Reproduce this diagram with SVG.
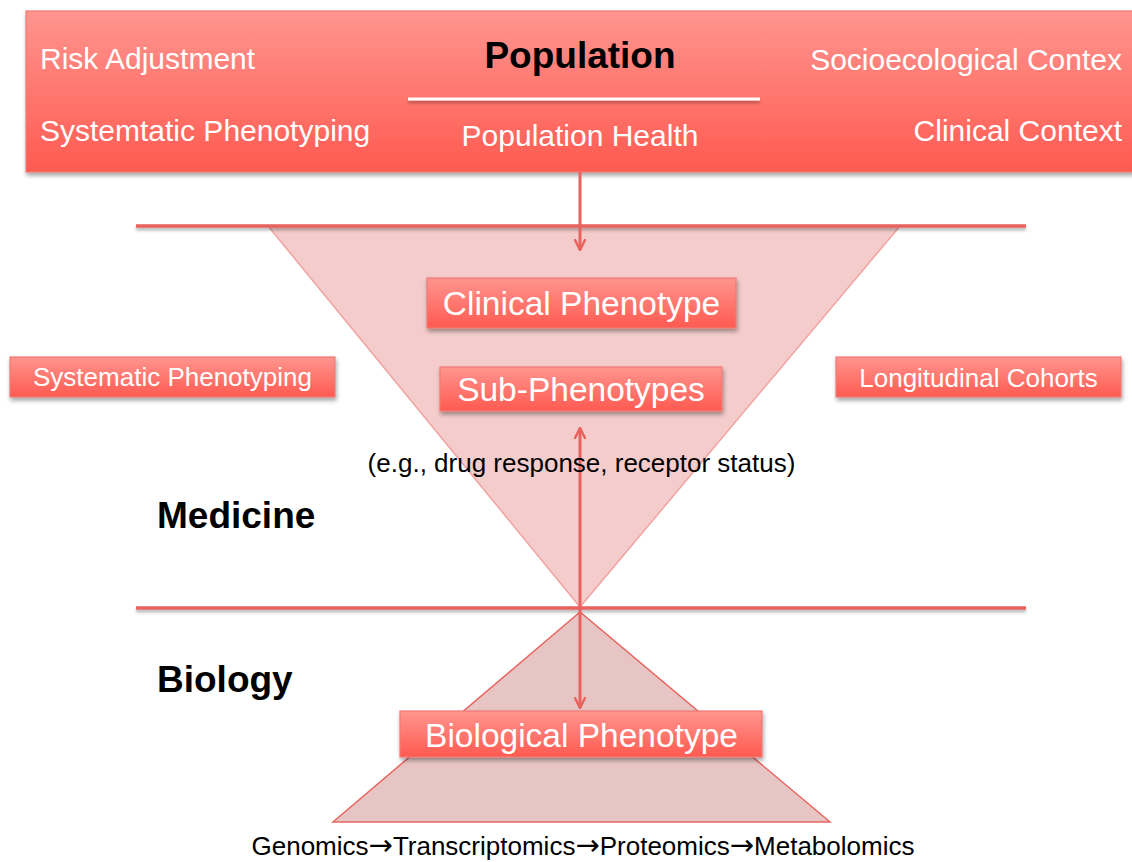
<svg xmlns="http://www.w3.org/2000/svg" width="1132" height="862" viewBox="0 0 1132 862">
  <defs>
    <linearGradient id="redFill" x1="0" y1="0" x2="0" y2="1">
      <stop offset="0" stop-color="#ff958f"/>
      <stop offset="1" stop-color="#ff5a50"/>
    </linearGradient>
    <filter id="shadow" x="-10%" y="-30%" width="120%" height="170%">
      <feDropShadow dx="1" dy="3" stdDeviation="2" flood-color="#000" flood-opacity="0.35"/>
    </filter>
    <filter id="lineShadow" filterUnits="userSpaceOnUse" x="0" y="0" width="1132" height="862">
      <feDropShadow dx="0" dy="2.5" stdDeviation="1.5" flood-color="#000" flood-opacity="0.3"/>
    </filter>
    <marker id="arrowHead" viewBox="0 0 12 12" refX="11" refY="6" markerWidth="12" markerHeight="12" markerUnits="userSpaceOnUse" orient="auto-start-reverse">
      <path d="M1,1 L11,6 L1,11" fill="none" stroke="#e8625e" stroke-width="2.5" stroke-linecap="round" stroke-linejoin="round"/>
    </marker>
  </defs>
  <style>
    .box { fill: url(#redFill); stroke: #ee7a75; stroke-width: 1.2; filter: url(#shadow); }
    .wtxt { font-family: "Liberation Sans", Arial, sans-serif; fill: #ffffff; }
    .btxt { font-family: "Liberation Sans", Arial, sans-serif; fill: #000000; }
    .bold { font-weight: bold; }
    .hline { stroke: #e8625e; stroke-width: 3.5; filter: url(#lineShadow); }
    .conn { stroke: #e8625e; stroke-width: 3; fill: none; }
    .arr { font-family: "DejaVu Sans", sans-serif; font-size: 29px; }
  </style>

  <!-- population banner -->
  <g id="population">
    <rect class="box" x="26" y="11" width="1120" height="161"/>
    <text class="btxt bold" x="580" y="68" font-size="37" text-anchor="middle">Population</text>
    <line x1="408" y1="99" x2="760" y2="99" stroke="#ffffff" stroke-width="3" filter="url(#lineShadow)"/>
    <text class="wtxt" x="40" y="69" font-size="30">Risk Adjustment</text>
    <text class="wtxt" x="40" y="141" font-size="30">Systemtatic Phenotyping</text>
    <text class="wtxt" x="580" y="146" font-size="30" text-anchor="middle">Population Health</text>
    <text class="wtxt" x="1122" y="70" font-size="30" text-anchor="end">Socioecological Contex</text>
    <text class="wtxt" x="1122" y="141" font-size="30" text-anchor="end">Clinical Context</text>
  </g>

  <!-- medicine funnel -->
  <g id="medicine-funnel">
    <polygon points="268,226 900,226 580,607" fill="#f3cccb" stroke="#f2a3a0" stroke-width="1.5"/>
  </g>

  <!-- biology pyramid -->
  <g id="biology-pyramid">
    <polygon points="580,612 333,822 830,822" fill="#e8c5c5" stroke="#e8665f" stroke-width="1.5"/>
  </g>

  <!-- level dividers -->
  <g id="dividers">
    <line class="hline" x1="136" y1="226" x2="1026" y2="226"/>
    <line class="hline" x1="136" y1="608" x2="1026" y2="608"/>
  </g>

  <!-- connectors -->
  <g id="connectors">
    <line class="conn" x1="580" y1="172" x2="580" y2="250" marker-end="url(#arrowHead)"/>
    <line class="conn" x1="580" y1="428" x2="580" y2="708" marker-start="url(#arrowHead)" marker-end="url(#arrowHead)"/>
  </g>

  <g id="clinical-phenotype">
    <rect class="box" x="427" y="278" width="309" height="50"/>
    <text class="wtxt" x="581.5" y="315" font-size="33.5" text-anchor="middle">Clinical Phenotype</text>
  </g>

  <g id="sub-phenotypes">
    <rect class="box" x="440" y="367" width="282" height="44"/>
    <text class="wtxt" x="581" y="401" font-size="33.5" text-anchor="middle">Sub-Phenotypes</text>
  </g>

  <g id="systematic-phenotyping">
    <rect class="box" x="10" y="357" width="325" height="40"/>
    <text class="wtxt" x="172.5" y="386" font-size="26" text-anchor="middle">Systematic Phenotyping</text>
  </g>

  <g id="longitudinal-cohorts">
    <rect class="box" x="836" y="357" width="285" height="40"/>
    <text class="wtxt" x="978.5" y="387" font-size="26" text-anchor="middle">Longitudinal Cohorts</text>
  </g>

  <g id="biological-phenotype">
    <rect class="box" x="400" y="711" width="362" height="46"/>
    <text class="wtxt" x="581.5" y="747" font-size="33.5" text-anchor="middle">Biological Phenotype</text>
  </g>

  <!-- free labels -->
  <text class="btxt" x="581.5" y="472" font-size="26" text-anchor="middle">(e.g., drug response, receptor status)</text>
  <text class="btxt bold" x="157" y="528" font-size="37">Medicine</text>
  <text class="btxt bold" x="157" y="692" font-size="37">Biology</text>
  <text class="btxt" x="583" y="855" font-size="26" text-anchor="middle">Genomics<tspan class="arr">→</tspan>Transcriptomics<tspan class="arr">→</tspan>Proteomics<tspan class="arr">→</tspan>Metabolomics</text>
</svg>
